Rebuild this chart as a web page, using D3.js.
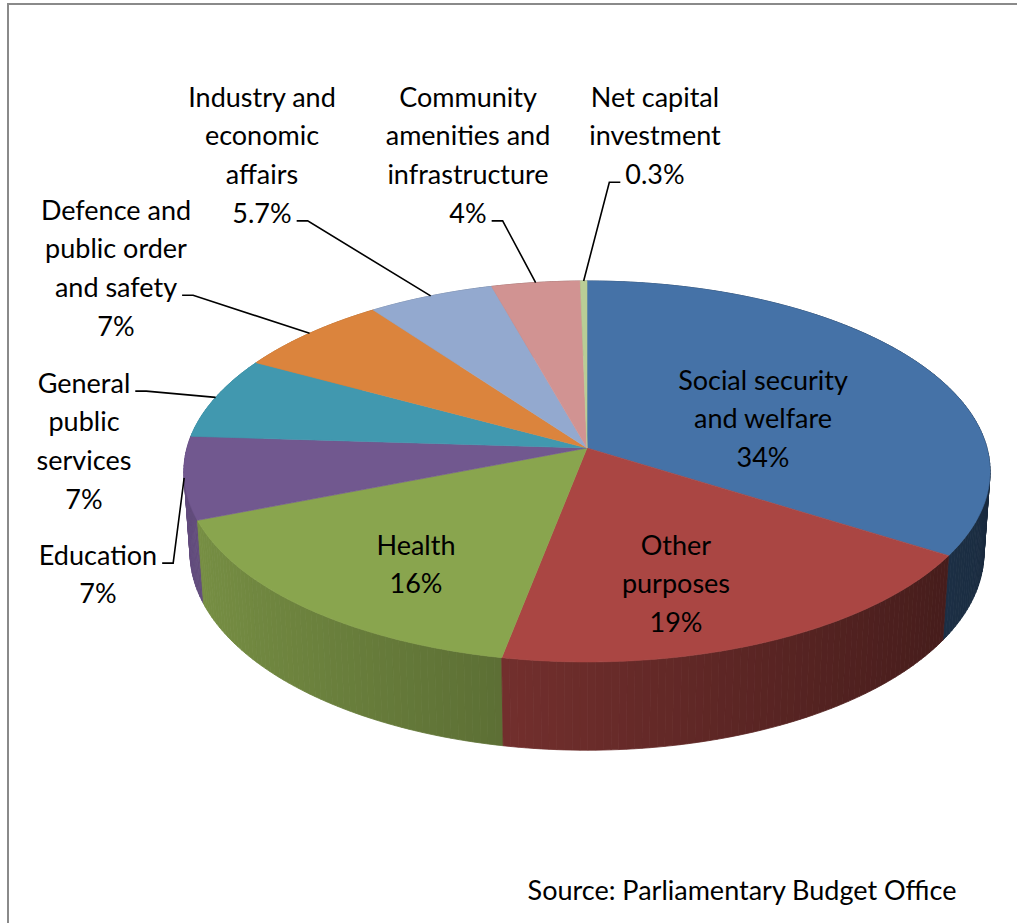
<!DOCTYPE html>
<html>
<head>
<meta charset="utf-8">
<script src="https://cdn.jsdelivr.net/npm/d3@7/dist/d3.min.js"></script>
<style>
  body { margin: 0; background: #ffffff; }
  svg { display: block; }
  text { font-family: Lato, "Open Sans", sans-serif; fill: #000000; }
</style>
</head>
<body>
<svg id="chart" width="1017" height="923"></svg>
<script>
// Commonwealth expenditure by function, share of total (%)
const categories = [
  "Social security and welfare",
  "Other purposes",
  "Health",
  "Education",
  "General public services",
  "Defence and public order and safety",
  "Industry and economic affairs",
  "Community amenities and infrastructure",
  "Net capital investment"
];
const shares = [34, 19, 16, 7, 7, 7, 5.7, 4, 0.3];
const sliceColors = ["#4572A7", "#AA4643", "#89A54E", "#71588F", "#4198AF",
                     "#DB843D", "#93A9CF", "#D19392", "#B9CD96"];
const labelLines = [
  ["Social security", "and welfare"],
  ["Other", "purposes"],
  ["Health"],
  ["Education"],
  ["General", "public", "services"],
  ["Defence and", "public order", "and safety"],
  ["Industry and", "economic", "affairs"],
  ["Community", "amenities and", "infrastructure"],
  ["Net capital", "investment"]
];
const sourceNote = "Source: Parliamentary Budget Office";

// ---- layout ----
const W = 1017, H = 923;
const FONT = 27, LINE_H = 38.6;
const cam = { cx: 587, cy: 448, f: 2868, D: 7.17, tilt: Math.asin(0.469), thick: 0.232 };

// label placement: centre x, centre y of first line; leader = [line index, side]
const labelLayout = {
  "Social security and welfare":            { x: 763, y: 380 },
  "Other purposes":                         { x: 676, y: 545 },
  "Health":                                 { x: 416, y: 545 },
  "Education":                              { x: 98,  y: 555, leader: [0, "right"] },
  "General public services":                { x: 84,  y: 383, leader: [0, "right"] },
  "Defence and public order and safety":    { x: 116, y: 210, leader: [2, "right"] },
  "Industry and economic affairs":          { x: 262, y: 97,  leader: [3, "right"] },
  "Community amenities and infrastructure": { x: 468, y: 97,  leader: [3, "right"] },
  "Net capital investment":                 { x: 655, y: 97,  leader: [2, "left"] }
};

const svg = d3.select("#chart");
svg.append("rect").attr("width", W).attr("height", H).attr("fill", "#ffffff");
svg.append("rect")
  .attr("x", 8).attr("y", 4).attr("width", W + 40).attr("height", H + 40)
  .attr("fill", "none").attr("stroke", "#8a8a8a").attr("stroke-width", 2);

// perspective projection of a point on the pie: angle a (clockwise from 12 o'clock),
// radial fraction r, and depth below the top face h (in radius units)
function project(a, r, h) {
  const sinT = Math.sin(cam.tilt), cosT = Math.cos(cam.tilt);
  const X = r * Math.sin(a), Zb = r * Math.cos(a);
  const yc = Zb * sinT - h * cosT;
  const zc = cam.D + Zb * cosT + h * sinT;
  return [cam.cx + cam.f * X / zc, cam.cy - cam.f * yc / zc, zc];
}

const color = d3.scaleOrdinal().domain(categories).range(sliceColors);
const pie = d3.pie().sort(null).value(d => d.value);
const data = categories.map((c, i) => ({ name: c, value: shares[i], lines: labelLines[i] }));
const arcs = pie(data);

const line = d3.line();
const STEP = Math.PI / 360;

function arcPoints(a0, a1, r, h) {
  const n = Math.max(1, Math.ceil((a1 - a0) / STEP));
  return d3.range(n + 1).map(k => project(a0 + (a1 - a0) * k / n, r, h).slice(0, 2));
}

// side-wall shading: lit from the left
function wallShade(base, a) {
  const k = Math.max(0.3, Math.min(0.95, 0.626 - 0.254 * Math.sin(a)));
  const c = d3.rgb(base);
  return d3.rgb(c.r * k, c.g * k, c.b * k).formatHex();
}

// ---- side walls, cut into thin strips and drawn far to near ----
const strips = [];
arcs.forEach(d => {
  const n = Math.max(1, Math.ceil((d.endAngle - d.startAngle) / (Math.PI / 180)));
  for (let k = 0; k < n; k++) {
    const a0 = d.startAngle + (d.endAngle - d.startAngle) * k / n;
    const a1 = d.startAngle + (d.endAngle - d.startAngle) * (k + 1) / n;
    const am = (a0 + a1) / 2;
    const pts = [project(a0, 1, 0), project(a1, 1, 0), project(a1, 1, cam.thick), project(a0, 1, cam.thick)]
      .map(p => p.slice(0, 2));
    strips.push({ pts, z: project(am, 1, cam.thick / 2)[2], fill: wallShade(color(d.data.name), am) });
  }
});
strips.sort((p, q) => q.z - p.z);

svg.append("g").attr("class", "walls")
  .selectAll("path").data(strips).join("path")
  .attr("d", s => line(s.pts) + "Z")
  .attr("fill", s => s.fill)
  .attr("stroke", s => s.fill)
  .attr("stroke-width", 0.8)
  .attr("stroke-linejoin", "round");

// ---- top faces ----
const apex = project(0, 0, 0).slice(0, 2);
svg.append("g").attr("class", "tops")
  .selectAll("path").data(arcs).join("path")
  .attr("d", d => line([apex, ...arcPoints(d.startAngle, d.endAngle, 1, 0)]) + "Z")
  .attr("fill", d => color(d.data.name))
  .attr("stroke", d => color(d.data.name))
  .attr("stroke-width", 0.6)
  .attr("stroke-linejoin", "round");

// ---- labels ----
const fmt = d3.format("~g");
const labels = svg.append("g").attr("class", "labels").attr("font-size", FONT);

arcs.forEach(d => {
  const lay = labelLayout[d.data.name];
  const lines = [...d.data.lines, fmt(d.data.value) + "%"];
  const g = labels.append("g");
  const texts = g.selectAll("text").data(lines).join("text")
    .attr("x", lay.x)
    .attr("y", (t, i) => lay.y + i * LINE_H)
    .attr("dy", "0.36em")
    .attr("text-anchor", "middle")
    .text(t => t);

  if (lay.leader) {
    const [li, side] = lay.leader;
    const w = texts.nodes()[li].getComputedTextLength();
    const ly = lay.y + li * LINE_H + FONT * 0.3;
    const sx = side === "right" ? lay.x + w / 2 + 5 : lay.x - w / 2 - 5;
    const stub = side === "right" ? sx + 11 : sx - 11;
    const mid = (d.startAngle + d.endAngle) / 2;
    const end = project(mid, 1, 0).slice(0, 2);
    g.append("path")
      .attr("d", line([[sx, ly], [stub, ly], end]))
      .attr("fill", "none")
      .attr("stroke", "#000000")
      .attr("stroke-width", 1.6);
  }
});

svg.append("text")
  .attr("x", 742).attr("y", 890).attr("dy", "0.36em")
  .attr("text-anchor", "middle")
  .attr("font-size", FONT)
  .text(sourceNote);
</script>
</body>
</html>
